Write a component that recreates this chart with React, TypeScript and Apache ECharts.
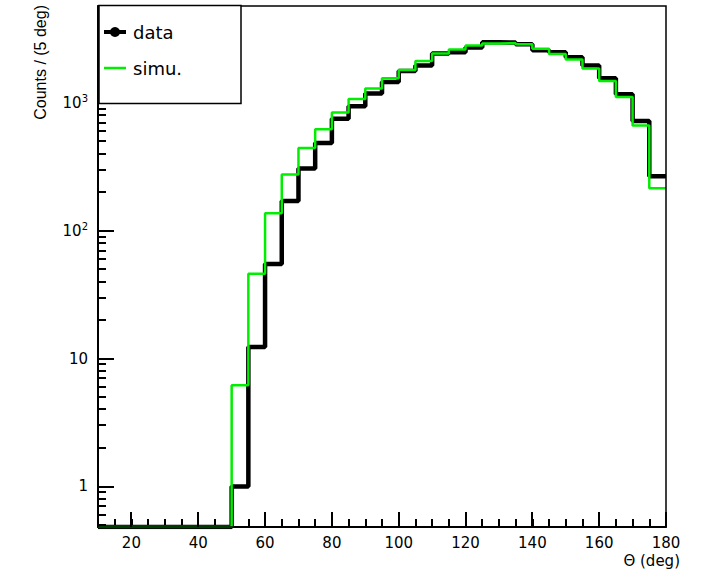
import React, { useEffect, useRef } from "react";
import * as echarts from "echarts";

// Bin low edges (deg), 5-degree bins from 10 to 180
const binLowEdges = [10, 15, 20, 25, 30, 35, 40, 45, 50, 55, 60, 65, 70, 75, 80, 85, 90, 95, 100, 105, 110, 115, 120, 125, 130, 135, 140, 145, 150, 155, 160, 165, 170, 175];
const binUpperEnd = 180;

const dataCounts = [0, 0, 0, 0, 0, 0, 0, 0, 1, 12.3, 55, 171, 306, 485, 752, 939, 1181, 1455, 1774, 1954, 2425, 2483, 2702, 2972, 2957, 2866, 2572, 2483, 2268, 1954, 1555, 1165, 721, 266];
const simuCounts = [0, 0, 0, 0, 0, 0, 0, 0, 6.2, 46, 137, 275, 443, 621, 838, 1071, 1291, 1555, 1805, 2122, 2425, 2606, 2801, 2904, 2935, 2866, 2652, 2409, 2178, 1851, 1481, 1110, 664, 215];

const xMajorTicks = [20, 40, 60, 80, 100, 120, 140, 160, 180];
const yMajorTicks = [1, 10, 100, 1000];
const yMinorTicks = [0.5, 0.6, 0.7, 0.8, 0.9, 2, 3, 4, 5, 6, 7, 8, 9, 20, 30, 40, 50, 60, 70, 80, 90, 200, 300, 400, 500, 600, 700, 800, 900, 2000, 3000, 4000, 5000];

const X_MIN = 10;
const X_MAX = 180;
const X_MINOR_STEP = 5;
const Y_MIN = 0.482;
const Y_MAX = 5714;

function toSteps(counts: number[]) {
  const pts: [number, number][] = counts.map((c, i) => [binLowEdges[i], c > 0 ? c : Y_MIN]);
  const last = counts[counts.length - 1];
  pts.push([binUpperEnd, last > 0 ? last : Y_MIN]);
  return pts;
}

const yLabel = (v: number) => {
  const r = Math.round(v);
  if (r === 1) return "1";
  if (r === 10) return "10";
  if (r === 100) return "{b|10}{s|2}";
  if (r === 1000) return "{b|10}{s|3}";
  return "";
};

function legendAndTitles(): any[] {
  return [
    {
      id: "legbox",
      type: "rect",
      shape: { x: 99, y: 5.5, width: 142, height: 98 },
      style: { fill: "#fff", stroke: "#000", lineWidth: 1.5 },
      z: 30,
    },
    { id: "legl1", type: "line", shape: { x1: 104, y1: 32, x2: 126, y2: 32 }, style: { stroke: "#000", lineWidth: 4 }, z: 31 },
    { id: "legc1", type: "circle", shape: { cx: 115, cy: 32, r: 5 }, style: { fill: "#000" }, z: 31 },
    {
      id: "legt1",
      type: "text",
      x: 133,
      y: 32,
      style: { text: "data", fill: "#000", font: "18px 'DejaVu Sans'", textAlign: "left", textVerticalAlign: "middle" },
      z: 31,
    },
    { id: "legl2", type: "line", shape: { x1: 104, y1: 68, x2: 126, y2: 68 }, style: { stroke: "#00ee00", lineWidth: 2.5 }, z: 31 },
    {
      id: "legt2",
      type: "text",
      x: 133,
      y: 68,
      style: { text: "simu.", fill: "#000", font: "18px 'DejaVu Sans'", textAlign: "left", textVerticalAlign: "middle" },
      z: 31,
    },
    {
      id: "ytitle",
      type: "text",
      x: 40,
      y: 5,
      rotation: Math.PI / 2,
      style: { text: "Counts / (5 deg)", fill: "#000", font: "16px 'Liberation Sans'", textAlign: "right", textVerticalAlign: "middle" },
      z: 31,
    },
    {
      id: "xtitle",
      type: "text",
      x: 680,
      y: 561,
      style: { text: "Θ (deg)", fill: "#000", font: "15px 'DejaVu Sans'", textAlign: "right", textVerticalAlign: "middle" },
      z: 31,
    },
  ];
}

export default function App() {
  const ref = useRef<HTMLDivElement>(null);
  useEffect(() => {
    if (!ref.current) return;
    const chart = echarts.init(ref.current, undefined, { renderer: "svg" });
    const labelFont = "DejaVu Sans";
    chart.setOption({
      animation: false,
      grid: { left: 98, right: 39, top: 6, bottom: 42 },
      xAxis: {
        type: "value",
        min: X_MIN,
        max: X_MAX,
        interval: X_MINOR_STEP,
        splitLine: { show: false },
        axisLine: { show: true, onZero: false, lineStyle: { color: "#000", width: 2 } },
        axisTick: { show: true, inside: true, length: 8, lineStyle: { color: "#000", width: 2 } },
        axisLabel: {
          customValues: xMajorTicks,
          color: "#000",
          fontFamily: labelFont,
          fontSize: 15,
          margin: 8,
        },
      },
      yAxis: {
        type: "log",
        logBase: 10,
        min: Y_MIN,
        max: Y_MAX,
        splitLine: { show: false },
        axisLine: { show: true, onZero: false, lineStyle: { color: "#000", width: 2 } },
        axisTick: { show: true, inside: true, length: 16, lineStyle: { color: "#000", width: 2 } },
        axisLabel: {
          customValues: yMajorTicks,
          color: "#000",
          fontFamily: labelFont,
          fontSize: 15,
          margin: 10,
          formatter: yLabel,
          rich: {
            b: { fontFamily: labelFont, fontSize: 15, color: "#000" },
            s: { fontFamily: labelFont, fontSize: 10, color: "#000", verticalAlign: "top", padding: [0, 0, 8, 0] },
          },
        },
      },
      series: [
        {
          name: "data",
          type: "line",
          step: "end",
          showSymbol: false,
          data: toSteps(dataCounts),
          lineStyle: { color: "#000", width: 4.5 },
          z: 2,
        },
        {
          name: "simu.",
          type: "line",
          step: "end",
          showSymbol: false,
          data: toSteps(simuCounts),
          lineStyle: { color: "#00ee00", width: 2.5 },
          z: 3,
        },
      ],
    } as any);

    // frame, long x ticks and log minor ticks, placed through the chart's own scales
    const px = (v: [number, number]) => chart.convertToPixel({ gridIndex: 0 } as any, v) as number[];
    const els: any[] = [];
    const tl = px([X_MIN, Y_MAX]);
    const br = px([X_MAX, Y_MIN]);
    els.push({
      id: "frame",
      type: "rect",
      shape: { x: tl[0], y: tl[1], width: br[0] - tl[0], height: br[1] - tl[1] },
      style: { fill: null, stroke: "#000", lineWidth: 1.5 },
      silent: true,
      z: 20,
    });
    let k = 0;
    xMajorTicks.forEach((v) => {
      const p = px([v, Y_MIN]);
      const x = Math.round(p[0]);
      const y = Math.round(p[1]);
      els.push({
        id: "tx" + k++,
        type: "line",
        shape: { x1: x, y1: y, x2: x, y2: y - 15 },
        style: { stroke: "#000", lineWidth: 2 },
        z: 20,
      });
    });
    yMinorTicks.forEach((v) => {
      const p = px([X_MIN, v]);
      const x = Math.round(p[0]);
      const y = Math.round(p[1]);
      els.push({
        id: "ty" + k++,
        type: "line",
        shape: { x1: x, y1: y, x2: x + 8, y2: y },
        style: { stroke: "#000", lineWidth: 2 },
        z: 20,
      });
    });
    chart.setOption({ graphic: [...els, ...legendAndTitles()] });

    return () => chart.dispose();
  }, []);
  return <div ref={ref} style={{ position: "absolute", left: 0, top: 0, width: 705, height: 569 }} />;
}
